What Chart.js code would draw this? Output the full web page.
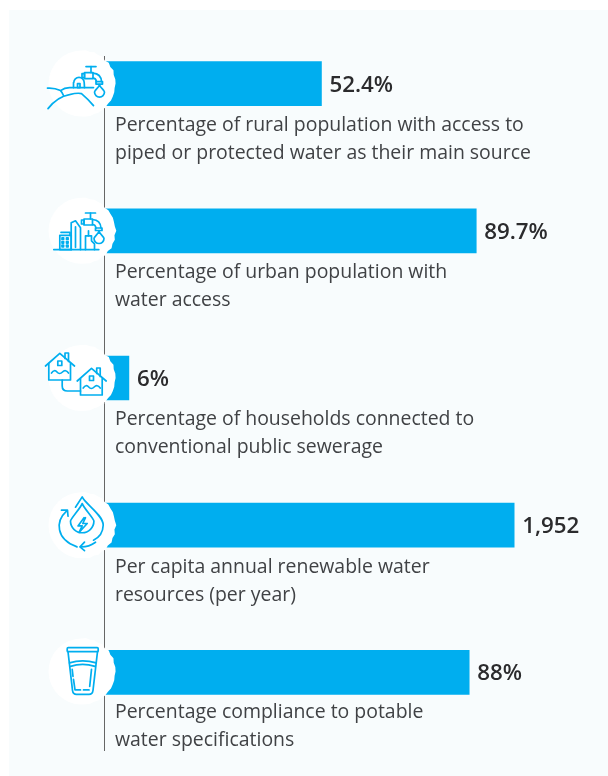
<!DOCTYPE html>
<html>
<head>
<meta charset="utf-8">
<title>Water indicators</title>
<script src="https://cdn.jsdelivr.net/npm/chart.js@4"></script>
<style>
  html, body { margin: 0; padding: 0; background: #fff; }
  canvas { display: block; }
</style>
</head>
<body>
<canvas id="waterChart" width="608" height="776"></canvas>
<script>
const categories = ['Rural access', 'Urban access', 'Public sewerage', 'Renewable resources', 'Potable compliance'];
const percentValues = [52.4, 89.7, 6, null, 88];
const resourceValues = [null, null, null, 1952, null];
const valueLabels = ['52.4%', '89.7%', '6%', '1,952', '88%'];
const descriptions = [
    ['Percentage of rural population with access to', 'piped or protected water as their main source'],
    ['Percentage of urban population with', 'water access'],
    ['Percentage of households connected to', 'conventional public sewerage'],
    ['Per capita annual renewable water', 'resources (per year)'],
    ['Percentage compliance to potable', 'water specifications']
];

const BLUE = '#00aeef';
// Captions sit a little closer to the lower bars, values a little lower on the upper ones
const captionNudge = [0, 0, -1, 0, -2];
const valueNudge = [2, 2, 2, 1, 1];

// Shared icon pieces, all relative to the icon centre
function line(ctx, pts) {
    ctx.beginPath();
    pts.forEach((p, i) => i ? ctx.lineTo(p[0], p[1]) : ctx.moveTo(p[0], p[1]));
    ctx.stroke();
}

function drop(ctx, x, top, r) {
    const cy = top + r * 1.5;
    ctx.beginPath();
    ctx.moveTo(x, top);
    ctx.bezierCurveTo(x - 0.5, top + 3, x - r, cy - 2, x - r, cy);
    ctx.arc(x, cy, r, Math.PI, 0, true);
    ctx.bezierCurveTo(x + r, cy - 2, x + 0.5, top + 3, x, top);
    ctx.stroke();
}

function faucet(ctx, dx, dy) {
    ctx.save();
    ctx.translate(dx, dy);
    line(ctx, [[4.5, -17], [14.5, -17]]);
    line(ctx, [[9.5, -17], [9.5, -11]]);
    ctx.strokeRect(3, -11, 8.5, 6);
    ctx.strokeRect(0.5, -10, 2.5, 4);
    ctx.beginPath();
    ctx.moveTo(11.5, -10.5);
    ctx.quadraticCurveTo(19.5, -10, 20, -2);
    ctx.moveTo(11.5, -5.5);
    ctx.quadraticCurveTo(14.5, -5.5, 15, -2);
    ctx.stroke();
    ctx.strokeRect(14.5, -2, 6.5, 2.5);
    drop(ctx, 18, 1, 5);
    ctx.restore();
}

function house(ctx, dx, dy) {
    ctx.save();
    ctx.translate(dx, dy);
    line(ctx, [[-36, -12], [-21.7, -24.7], [-7, -12]]);
    line(ctx, [[-32.7, -14.5], [-32.7, 2], [-11, 2], [-11, -14.5]]);
    line(ctx, [[-16.5, -19.5], [-16.5, -25], [-13, -25], [-13, -16.5]]);
    ctx.strokeRect(-23.7, -17, 4, 4.5);
    ctx.beginPath();
    ctx.moveTo(-30, -5);
    ctx.quadraticCurveTo(-27, -9, -24.5, -6);
    ctx.quadraticCurveTo(-22, -3, -19, -6);
    ctx.quadraticCurveTo(-16, -9, -13, -5);
    ctx.stroke();
    ctx.restore();
}

const iconPainters = [
    function (ctx) {
        faucet(ctx, 0, 0);
        // hut and hills
        ctx.beginPath();
        ctx.moveTo(-8, 4);
        ctx.lineTo(-8, -1);
        ctx.arc(-2.5, -1, 5.2, Math.PI, 0);
        ctx.lineTo(3, 4);
        ctx.stroke();
        ctx.strokeRect(-4, 0, 2.5, 4);
        ctx.beginPath();
        ctx.moveTo(-34, 4.5);
        ctx.quadraticCurveTo(-27, 4, -21, 7);
        ctx.quadraticCurveTo(-17, 4, -12, 4);
        ctx.lineTo(12, 4);
        ctx.moveTo(-21, 7);
        ctx.quadraticCurveTo(-19, 9, -18, 12);
        ctx.moveTo(-33.5, 25);
        ctx.quadraticCurveTo(-24, 13, -12, 11);
        ctx.quadraticCurveTo(-4, 9, 0, 10);
        ctx.quadraticCurveTo(6, 15, 12, 22);
        ctx.stroke();
    },
    function (ctx) {
        faucet(ctx, -0.5, -0.8);
        line(ctx, [[-27.7, 18.8], [17.3, 18.8]]);
        ctx.strokeRect(-21.7, 4.5, 11.4, 14.3);
        line(ctx, [[-20.5, 1.5], [-11.5, 1.5], [-11.5, 4.5]]);
        for (let r = 0; r < 3; r++) {
            for (let c = 0; c < 2; c++) {
                ctx.strokeRect(-19.5 + c * 4.5, 7 + r * 3.7, 1.6, 1.6);
            }
        }
        line(ctx, [[-10.3, 18.8], [-10.3, -8], [-6, -10], [-1, -3], [-1, 18.8]]);
        line(ctx, [[-6, -4], [-6, 16.5]]);
        line(ctx, [[4, 18.8], [4, 5], [10, 5], [10, 10], [13, 13], [13, 18.8]]);
        line(ctx, [[7, 5], [7, 0]]);
    },
    function (ctx) {
        house(ctx, 0, 0);
        house(ctx, 31.7, 15);
        ctx.beginPath();
        ctx.moveTo(-19.3, 2);
        ctx.lineTo(-19.3, 8);
        ctx.quadraticCurveTo(-19.3, 13, -14, 13);
        ctx.lineTo(-1, 13);
        ctx.stroke();
    },
    function (ctx) {
        // outer flame
        ctx.beginPath();
        ctx.moveTo(-6, -18);
        ctx.lineTo(0.7, -28.3);
        ctx.bezierCurveTo(3, -22, 22, -10, 21.7, 0);
        ctx.bezierCurveTo(21.5, 7, 18, 12, 12, 15);
        ctx.stroke();
        drop(ctx, 0.7, -21.7, 11.7);
        // bolt
        line(ctx, [[2.5, -7.5], [-3.5, 0.7], [0.7, 0.7], [-2.5, 7.3], [5.7, -1.7], [1.3, -1.7], [4, -7.5]]);
        // recycling arrows
        ctx.beginPath();
        ctx.moveTo(-15, -14);
        ctx.bezierCurveTo(-26, -4, -26, 14, -4.5, 21.7);
        ctx.stroke();
        line(ctx, [[-20, -15], [-14, -15], [-13.5, -9]]);
        ctx.beginPath();
        ctx.moveTo(-1, 21.7);
        ctx.quadraticCurveTo(7, 22, 14, 17);
        ctx.stroke();
        line(ctx, [[3, 17], [-1.5, 21.7], [3, 25.5]]);
    },
    function (ctx) {
        ctx.beginPath();
        ctx.roundRect(-14.3, -23.7, 31, 4, 1);
        ctx.stroke();
        ctx.beginPath();
        ctx.moveTo(-13.5, -19.7);
        ctx.lineTo(-9, 19);
        ctx.quadraticCurveTo(-8.5, 23, -5, 23);
        ctx.lineTo(7.5, 23);
        ctx.quadraticCurveTo(11, 23, 11.5, 19);
        ctx.lineTo(16, -19.7);
        ctx.stroke();
        ctx.beginPath();
        ctx.moveTo(-12, -8.5);
        ctx.quadraticCurveTo(1, -12.5, 14.7, -8.5);
        ctx.moveTo(-11, -5);
        ctx.quadraticCurveTo(1, -9, 13.5, -5);
        ctx.stroke();
        line(ctx, [[-9.3, -2], [-8.5, 5]]);
        line(ctx, [[-8, 8], [-6.5, 18.5], [-1, 18.5]]);
        line(ctx, [[2, 18.5], [7.5, 18.5]]);
        line(ctx, [[10, -2], [8.2, 15]]);
    }
];

// Worn right edge of the white badge: radius offsets from top to bottom
const edgeWear = [0, 0.6, -0.4, 0.8, 0.2, 1.2, -0.3, 1.4, 0.5, 1.6, 0.6, 1.1, 1.8, 0.4, 1.5, 0.9, 1.7, 0.3, 1.2, 0.5, 1, -0.2, 0.7, 0.1, 0];

const panelPlugin = {
    id: 'panel',
    beforeDraw(chart) {
        const ctx = chart.ctx;
        ctx.save();
        ctx.fillStyle = '#f8fcfd';
        ctx.fillRect(9, 10, 599, 766);
        ctx.restore();
    },
    beforeDatasetsDraw(chart) {
        const ctx = chart.ctx;
        const x = chart.scales.x.left + 0.5;
        ctx.save();
        ctx.strokeStyle = '#666';
        ctx.lineWidth = 1;
        line(ctx, [[x, 56], [x, 751]]);
        ctx.restore();
    }
};

const annotationPlugin = {
    id: 'annotation',
    afterDatasetsDraw(chart) {
        const ctx = chart.ctx;
        const yScale = chart.scales.y;
        const left = chart.scales.x.left;
        ctx.save();
        categories.forEach((cat, i) => {
            const y = yScale.getPixelForValue(i);
            const isPercent = percentValues[i] !== null;
            const end = isPercent ? chart.scales.x.getPixelForValue(percentValues[i]) : chart.scales.x2.getPixelForValue(resourceValues[i]);

            // value next to the bar end
            ctx.fillStyle = '#2b2b2d';
            ctx.font = '600 22.3px "Open Sans"';
            ctx.textAlign = 'left';
            ctx.textBaseline = 'middle';
            ctx.fillText(valueLabels[i], end + 8, y + valueNudge[i]);

            // description under the bar
            ctx.fillStyle = '#404245';
            ctx.font = '19.45px "Open Sans"';
            ctx.textBaseline = 'alphabetic';
            descriptions[i].forEach((text, j) => {
                ctx.fillText(text, left + 11, y + 47.5 + captionNudge[i] + j * 28);
            });

            // icon badge over the start of the bar
            const cx = left - 22.5;
            ctx.save();
            ctx.translate(cx, y - (i === 4 ? 1 : 0));
            ctx.fillStyle = '#fff';
            ctx.beginPath();
            ctx.arc(0, 0, 33, Math.PI / 2, Math.PI * 1.5);
            edgeWear.forEach((d, k) => {
                const a = -Math.PI / 2 + Math.PI * k / (edgeWear.length - 1);
                const r = 33 + d * ((k + i * 3) % 2 ? 1 : 0.6);
                ctx.lineTo(Math.cos(a) * r, Math.sin(a) * r);
            });
            ctx.closePath();
            ctx.fill();
            ctx.strokeStyle = BLUE;
            ctx.lineWidth = 1.7;
            ctx.lineJoin = 'round';
            ctx.lineCap = 'round';
            iconPainters[i](ctx);
            ctx.restore();
        });
        ctx.restore();
    }
};

new Chart(document.getElementById('waterChart').getContext('2d'), {
    type: 'bar',
    data: {
        labels: categories,
        datasets: [
            { label: 'Percent', data: percentValues, xAxisID: 'x', backgroundColor: BLUE, barThickness: 44 },
            { label: 'Cubic metres per capita', data: resourceValues, xAxisID: 'x2', backgroundColor: BLUE, barThickness: 44 }
        ]
    },
    options: {
        indexAxis: 'y',
        responsive: false,
        animation: false,
        grouped: false,
        layout: { padding: { left: 104, right: 6, top: 10, bottom: 30 } },
        plugins: {
            legend: { display: false },
            tooltip: { enabled: false }
        },
        scales: {
            x: { display: false, min: 0, max: 120 },
            x2: { display: false, min: 0, max: 2370 },
            y: { display: false }
        }
    },
    plugins: [panelPlugin, annotationPlugin]
});
</script>
</body>
</html>
